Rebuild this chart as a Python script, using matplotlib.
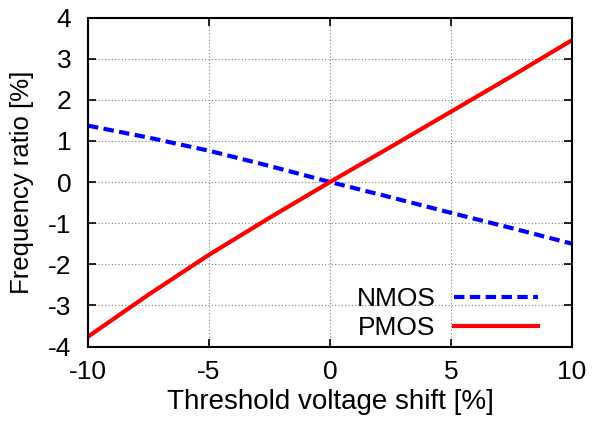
import numpy as np
import matplotlib.pyplot as plt

plt.rcParams["font.family"] = ["Liberation Sans", "DejaVu Sans"]
plt.rcParams["axes.unicode_minus"] = False

# threshold voltage shift [%]
vth_shift = [-10, -7.5, -5, -2.5, 0, 2.5, 5, 7.5, 10]
# frequency ratio [%]
nmos = [1.37, 1.08, 0.76, 0.39, 0.0, -0.37, -0.75, -1.12, -1.5]
pmos = [-3.76, -2.74, -1.77, -0.87, 0.0, 0.85, 1.71, 2.57, 3.45]

fig = plt.figure(figsize=(5.93, 4.28), dpi=100)
ax = fig.add_axes([88 / 593, 1 - 346.5 / 428, (572 - 88) / 593, (346.5 - 17.5) / 428])

ax.plot(vth_shift, nmos, color="#0000ff", linewidth=3, linestyle=(0, (2.5, 1.3)), label="NMOS")
ax.plot(vth_shift, pmos, color="#ff0000", linewidth=3, label="PMOS")

ax.set_xlim(-10, 10)
ax.set_ylim(-4, 4)
ax.set_xticks(np.arange(-10, 11, 5))
ax.set_yticks(np.arange(-4, 5, 1))
ax.grid(True, color="#808080", linestyle=(0, (1, 2)), linewidth=0.8)
ax.tick_params(direction="in", top=True, right=True, labelsize=19, length=6, width=1.2)
ax.tick_params(axis="x", pad=10)
ax.tick_params(axis="y", pad=12)
for s in ax.spines.values():
    s.set_linewidth(1.5)

ax.set_xlabel("Threshold voltage shift [%]", fontsize=20)
ax.set_ylabel("Frequency ratio [%]", fontsize=18.5)
ax.xaxis.set_label_coords(0.5, -0.13)
ax.yaxis.set_label_coords(-0.112, 0.5)

leg = ax.legend(loc="center right", bbox_to_anchor=(538 / 593, 1 - 313.5 / 428),
                bbox_transform=fig.transFigure, fontsize=19, frameon=False, markerfirst=False,
                handlelength=3.2, handletextpad=0.68, labelspacing=0.2,
                borderpad=0, borderaxespad=0)

fig.savefig("out.png", dpi=100)
